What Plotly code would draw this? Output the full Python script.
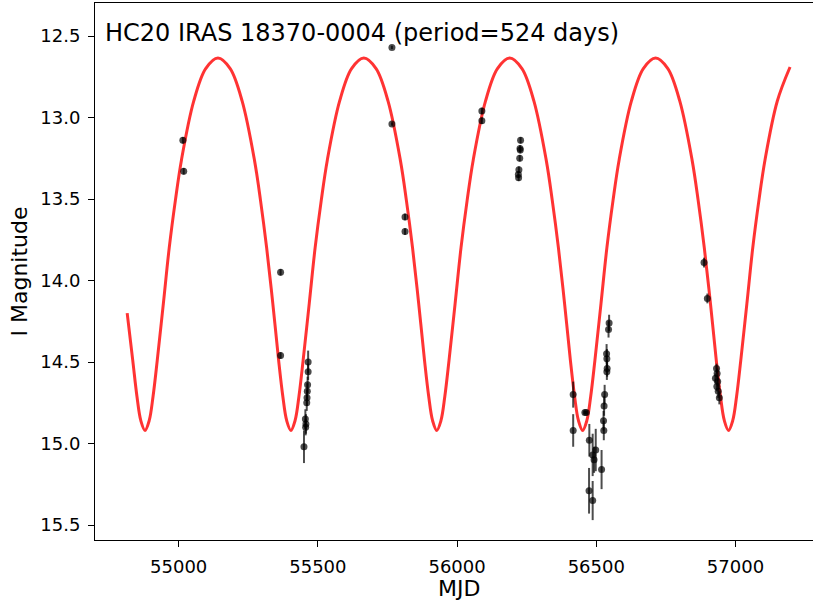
import plotly.graph_objects as go

# ---- model light curve ----
model_mjd = [
    54815, 54835, 54850, 54864, 54879,
    54894, 54908, 54923, 54945, 54966, 54988, 55010, 55054, 55097, 55141,
    55185, 55228, 55272, 55294, 55316, 55338, 55359, 55374, 55388, 55403,
    55418, 55432, 55447, 55469, 55490, 55512, 55534, 55578, 55621, 55665,
    55709, 55752, 55796, 55818, 55840, 55862, 55883, 55898, 55912, 55927,
    55942, 55956, 55971, 55993, 56014, 56036, 56058, 56102, 56145, 56189,
    56233, 56276, 56320, 56342, 56364, 56386, 56407, 56422, 56436, 56451,
    56466, 56480, 56495, 56517, 56538, 56560, 56582, 56626, 56669, 56713,
    56757, 56800, 56844, 56866, 56888, 56910, 56931, 56946, 56960, 56975,
    56990, 57004, 57019, 57041, 57062, 57084, 57106, 57150, 57196,
]
model_mag = [
    14.20, 14.49, 14.71, 14.86, 14.92,
    14.86, 14.71, 14.49, 14.14, 13.80, 13.51, 13.26, 12.90, 12.70, 12.635,
    12.70, 12.90, 13.26, 13.51, 13.80, 14.14, 14.49, 14.71, 14.86, 14.92,
    14.86, 14.71, 14.49, 14.14, 13.80, 13.51, 13.26, 12.90, 12.70, 12.635,
    12.70, 12.90, 13.26, 13.51, 13.80, 14.14, 14.49, 14.71, 14.86, 14.92,
    14.86, 14.71, 14.49, 14.14, 13.80, 13.51, 13.26, 12.90, 12.70, 12.635,
    12.70, 12.90, 13.26, 13.51, 13.80, 14.14, 14.49, 14.71, 14.86, 14.92,
    14.86, 14.71, 14.49, 14.14, 13.80, 13.51, 13.26, 12.90, 12.70, 12.635,
    12.70, 12.90, 13.26, 13.51, 13.80, 14.14, 14.49, 14.71, 14.86, 14.92,
    14.86, 14.71, 14.49, 14.14, 13.80, 13.51, 13.26, 12.90, 12.69,
]

# ---- observations ----
obs_mjd = [
    55015, 55018,
    55366, 55366,
    55465, 55465, 55463, 55462, 55461, 55460, 55455, 55457, 55456, 55450,
    55766, 55766,
    55813, 55813,
    56089, 56089,
    56228, 56226, 56227, 56225, 56222, 56220, 56221,
    56417, 56417, 56459, 56464, 56475, 56487, 56498, 56492, 56519, 56474, 56487,
    56546, 56544, 56537, 56538, 56539, 56538, 56530, 56528, 56526, 56527,
    56887, 56899, 56932, 56934, 56928, 56936, 56933, 56938, 56942,
]
obs_mag = [
    13.14, 13.33,
    13.95, 14.46,
    14.50, 14.56, 14.64, 14.68, 14.72, 14.75, 14.85, 14.88, 14.90, 15.02,
    12.57, 13.04,
    13.61, 13.70,
    12.96, 13.02,
    13.14, 13.19, 13.20, 13.25, 13.32, 13.35, 13.37,
    14.70, 14.92, 14.81, 14.81, 14.98, 15.07, 15.04, 15.10, 15.16, 15.29, 15.35,
    14.26, 14.30, 14.45, 14.48, 14.54, 14.56, 14.70, 14.77, 14.86, 14.92,
    13.89, 14.11, 14.54, 14.57, 14.60, 14.62, 14.65, 14.68, 14.72,
]
obs_err = [
    0.02, 0.02,
    0.02, 0.02,
    0.07, 0.05, 0.05, 0.05, 0.05, 0.05, 0.06, 0.06, 0.05, 0.10,
    0.01, 0.01,
    0.02, 0.02,
    0.02, 0.02,
    0.02, 0.02, 0.02, 0.02, 0.02, 0.02, 0.02,
    0.08, 0.10, 0.01, 0.01, 0.10, 0.13, 0.13, 0.08, 0.12, 0.14, 0.12,
    0.05, 0.05, 0.06, 0.06, 0.05, 0.05, 0.06, 0.06, 0.06, 0.06,
    0.03, 0.03, 0.03, 0.03, 0.03, 0.03, 0.03, 0.04, 0.04,
]

title_text = "HC20 IRAS 18370-0004 (period=524 days)"
x_ticks = [55000, 55500, 56000, 56500, 57000]
y_ticks = [12.5, 13.0, 13.5, 14.0, 14.5, 15.0, 15.5]

W, H = 813, 605
L, R, T, B = 95, 0, 3, 65
pw, ph = W - L - R, H - T - B

fig = go.Figure()
fig.add_trace(go.Scatter(
    x=model_mjd, y=model_mag, mode="lines",
    line=dict(color="rgba(255,0,0,0.8)", width=3, shape="spline", smoothing=1),
    showlegend=False, hoverinfo="skip",
))
fig.add_trace(go.Scatter(
    x=obs_mjd, y=obs_mag, mode="markers",
    marker=dict(color="rgba(0,0,0,0.7)", size=7, line=dict(width=0)),
    error_y=dict(type="data", array=obs_err, visible=True,
                 color="rgba(0,0,0,0.7)", thickness=2, width=0),
    showlegend=False,
))

font = "DejaVu Sans"
fig.update_layout(
    width=W, height=H,
    margin=dict(l=L, r=R, t=T, b=B, autoexpand=False),
    paper_bgcolor="white", plot_bgcolor="white",
    font=dict(family=font, size=18, color="black"),
    xaxis=dict(range=[54699.4, 57278.4], tickvals=x_ticks,
               ticktext=[str(v) for v in x_ticks],
               ticks="outside", ticklen=6, tickwidth=1, tickcolor="black",
               showline=True, linecolor="black", linewidth=1, mirror=True,
               showgrid=False, zeroline=False, ticklabelstandoff=4),
    yaxis=dict(range=[15.592, 12.2975], tickvals=y_ticks,
               ticktext=[f"{v:.1f}" for v in y_ticks],
               ticks="outside", ticklen=6, tickwidth=1, tickcolor="black",
               showline=True, linecolor="black", linewidth=1, mirror=False,
               showgrid=False, zeroline=False, ticklabelstandoff=4),
)

fig.add_annotation(text=title_text, xref="paper", yref="paper",
                   x=(103 - L) / pw, y=1 - (33 - T) / ph,
                   xanchor="left", yanchor="middle", showarrow=False,
                   font=dict(family=font, size=24, color="black"))
fig.add_annotation(text="MJD", xref="paper", yref="paper",
                   x=(459 - L) / pw, y=-(588 - (T + ph)) / ph,
                   xanchor="center", yanchor="middle", showarrow=False,
                   font=dict(family=font, size=22, color="black"))
fig.add_annotation(text="I Magnitude", xref="paper", yref="paper",
                   x=(19 - L) / pw, y=0.5, textangle=-90,
                   xanchor="center", yanchor="middle", showarrow=False,
                   font=dict(family=font, size=22, color="black"))

fig.write_html("out.html", config={"displayModeBar": False},
               post_script="document.body.style.margin='0';document.body.style.overflow='hidden';")
